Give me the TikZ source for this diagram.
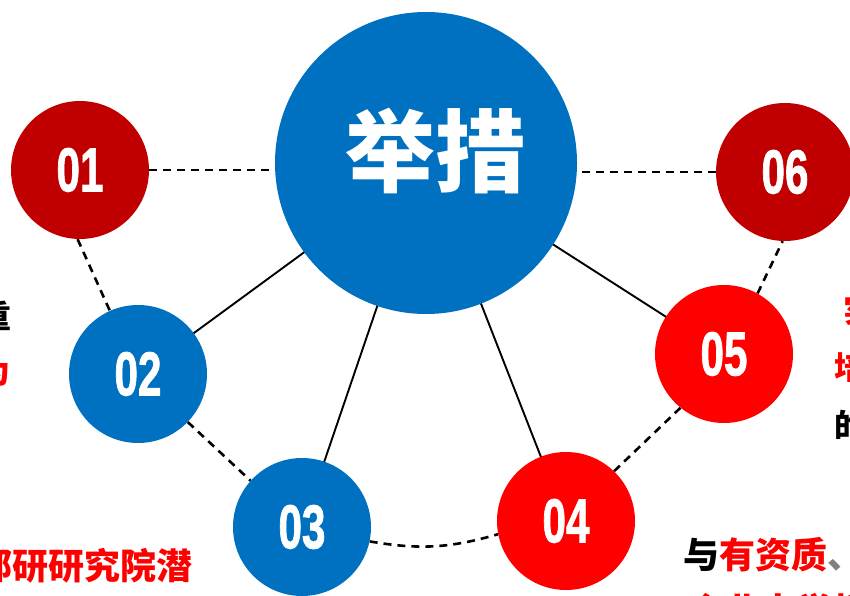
\documentclass[tikz,border=0pt]{standalone}
\usepackage{fontspec}
\newfontfamily\cjk{Noto Sans CJK SC}
\newfontfamily\numf[FakeBold=1.6]{Liberation Sans Bold}
\usetikzlibrary{backgrounds}
\definecolor{dred}{HTML}{C00000}
\definecolor{bred}{HTML}{FF0000}
\definecolor{mblue}{HTML}{0070C0}
\definecolor{grayc}{HTML}{808080}
\begin{document}
\begin{tikzpicture}[x=1pt,y=1pt,
  ball/.style={circle, minimum size=138pt, inner sep=0pt, text=white,
    font=\numf\fontsize{62}{62}\selectfont},
  dashline/.style={line width=2.6pt, dash pattern=on 8pt off 6pt},
  solidline/.style={line width=1.9pt},
  lbl/.style={inner sep=0pt, font=\cjk\bfseries\fontsize{32}{32}\selectfont},
  lblbig/.style={inner sep=0pt, font=\cjk\bfseries\fontsize{36}{36}\selectfont}]
\useasboundingbox (0,0) rectangle (850,595);

\node[circle, fill=mblue, minimum size=302pt, inner sep=0pt] (big) at (426,432) {};
\node[text=white, font=\cjk\bfseries\fontsize{90}{90}\selectfont, inner sep=0pt] (bigtxt) at (435,444) {举措};

\node[ball, fill=dred]  (c01) at (80,425)  {\scalebox{0.68}[1]{01}};
\node[ball, fill=mblue] (c02) at (138,221) {\scalebox{0.68}[1]{02}};
\node[ball, fill=mblue] (c03) at (302,68)  {\scalebox{0.68}[1]{03}};
\node[ball, fill=bred]  (c04) at (566,74)  {\scalebox{0.68}[1]{04}};
\node[ball, fill=bred]  (c05) at (724,241) {\scalebox{0.68}[1]{05}};
\node[ball, fill=dred]  (c06) at (785,423) {\scalebox{0.68}[1]{06}};

\begin{pgfonlayer}{background}
  \draw[dashline] (c01) -- (c01 -| big.center);
  \draw[dashline] (c06) -- (c06 -| big.center);
  \draw[dashline] (c01.-92) -- (c02.114);
  \draw[dashline] (c02.-44) -- (c03.138);
  \draw[dashline] (c03.-12) to[bend right=13] (c04.191);
  \draw[dashline] (c04.46) -- (c05.231);
  \draw[dashline] (c05.61) -- (c06.-92);
  \draw[solidline] (big.center) -- (c02.center);
  \draw[solidline] (big.center) -- (c03.center);
  \draw[solidline] (big.center) -- (c04.center);
  \draw[solidline] (big.center) -- (c05.center);
\end{pgfonlayer}

% cropped text fragments at the edges
\node[lbl, anchor=east] (tl1) at (12,279) {重};
\node[lbl, anchor=east, text=bred] (tl2) at (11,224) {为};
\node[lblbig, anchor=east, text=bred] (tbl) at (193,29) {部研研究院潜};
\node[lblbig, anchor=west] (tbr1) at (683,40) {与\textcolor{bred}{有资质}\textcolor{grayc}{、}};
\node[lblbig, anchor=west, text=bred] (tbr2) at (688,-16) {企业大学相关};
\node[lbl, anchor=west, text=bred] (tr1) at (843,285) {实};
\node[lbl, anchor=west, text=bred] (tr2) at (834,228) {培};
\node[lbl, anchor=west] (tr3) at (834,170) {的};
\end{tikzpicture}
\end{document}
